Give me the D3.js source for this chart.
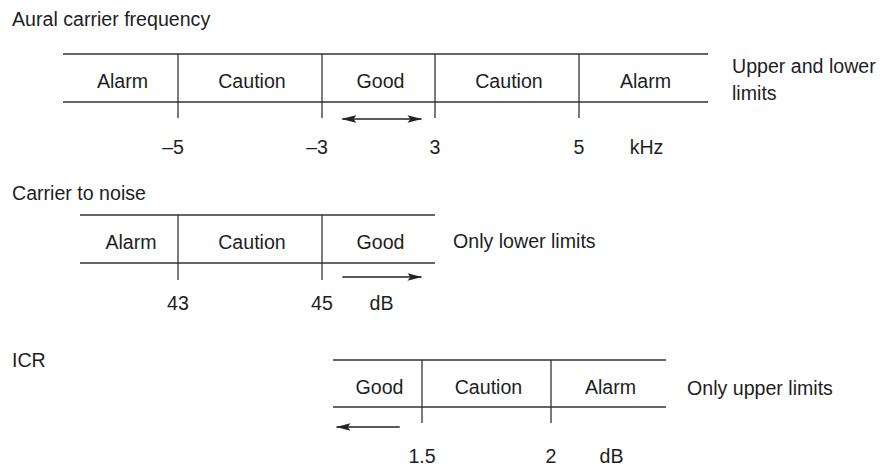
<!DOCTYPE html>
<html>
<head>
<meta charset="utf-8">
<script src="https://cdn.jsdelivr.net/npm/d3@7"></script>
<style>
  body { margin: 0; background: #fff; }
  text { font-family: "Liberation Sans", Arial, Helvetica, sans-serif; fill: #1e1e1e; }
</style>
</head>
<body>
<div class="canva"></div>
<script>
// ---- data ----
const panelTitles = ["Aural carrier frequency", "Carrier to noise", "ICR"];

const auralSegments = ["Alarm", "Caution", "Good", "Caution", "Alarm"];
const auralLimits = ["–5", "–3", "3", "5"];
const auralUnit = "kHz";
const auralNote = ["Upper and lower", "limits"];

const cnSegments = ["Alarm", "Caution", "Good"];
const cnLimits = ["43", "45"];
const cnUnit = "dB";
const cnNote = ["Only lower limits"];

const icrSegments = ["Good", "Caution", "Alarm"];
const icrLimits = ["1.5", "2"];
const icrUnit = "dB";
const icrNote = ["Only upper limits"];

// ---- layout ----
const width = 883, height = 468;
const svg = d3.select(".canva").append("svg")
    .attr("width", width)
    .attr("height", height);

const fontSize = 19.6;
const ink = "#333";

// arrow heads
const defs = svg.append("defs");
defs.append("marker")
    .attr("id", "head")
    .attr("viewBox", "0 -4 15 8")
    .attr("refX", 14)
    .attr("refY", 0)
    .attr("markerUnits", "userSpaceOnUse")
    .attr("markerWidth", 15)
    .attr("markerHeight", 8)
    .attr("orient", "auto-start-reverse")
  .append("path")
    .attr("d", "M0,-3.8L15,0L0,3.8L3,0Z")
    .attr("fill", "#222");

// each panel: its data + where it sits
const panels = [
  {title: panelTitles[0], titleY: 26, segments: auralSegments, limits: auralLimits, unit: auralUnit, note: auralNote,
   edges: [63, 178, 322, 435, 579, 708], top: 54, bandH: 48, tickDrop: 16, labelDrop: 52,
   noteX: 732, noteY: 73, arrow: {seg: 2, from: 0.18, to: 0.88, dir: "both", dy: 17}},
  {title: panelTitles[1], titleY: 200, segments: cnSegments, limits: cnLimits, unit: cnUnit, note: cnNote,
   edges: [80, 178, 322, 435], top: 215, bandH: 48, tickDrop: 17, labelDrop: 47,
   noteX: 453, noteY: 248, arrow: {seg: 2, from: 0.18, to: 0.88, dir: "right", dy: 14}},
  {title: panelTitles[2], titleY: 367, segments: icrSegments, limits: icrLimits, unit: icrUnit, note: icrNote,
   edges: [333, 422, 551, 666], top: 360, bandH: 47, tickDrop: 16, labelDrop: 56,
   noteX: 687, noteY: 395, arrow: {seg: 0, from: 0.04, to: 0.75, dir: "left", dy: 20}}
];

panels.forEach(p => {
  const g = svg.append("g");
  const n = p.segments.length;
  // piecewise scale: boundary index -> px
  const x = d3.scaleLinear().domain(d3.range(n + 1)).range(p.edges);
  const bottom = p.top + p.bandH;

  g.append("text")
      .attr("x", 12)
      .attr("y", p.titleY)
      .attr("font-size", fontSize)
      .text(p.title);

  // top and bottom rules
  g.selectAll("line.rule")
    .data([p.top, bottom])
    .enter().append("line")
      .attr("class", "rule")
      .attr("x1", x(0)).attr("x2", x(n))
      .attr("y1", d => d).attr("y2", d => d)
      .attr("stroke", ink)
      .attr("stroke-width", 1.5);

  // dividers, which hang below as ticks
  g.selectAll("line.div")
    .data(p.limits)
    .enter().append("line")
      .attr("class", "div")
      .attr("x1", (d, i) => x(i + 1)).attr("x2", (d, i) => x(i + 1))
      .attr("y1", p.top).attr("y2", bottom + p.tickDrop)
      .attr("stroke", ink)
      .attr("stroke-width", 1.3);

  // segment names
  g.selectAll("text.seg")
    .data(p.segments)
    .enter().append("text")
      .attr("class", "seg")
      .attr("x", (d, i) => x(i + 0.5) + 2)
      .attr("y", p.top + 34)
      .attr("text-anchor", "middle")
      .attr("font-size", fontSize)
      .text(d => d);

  // limit values
  g.selectAll("text.lim")
    .data(p.limits)
    .enter().append("text")
      .attr("class", "lim")
      .attr("x", (d, i) => x(i + 1))
      .attr("dx", d => d.startsWith("–") ? "-0.25em" : 0)
      .attr("y", bottom + p.labelDrop)
      .attr("text-anchor", "middle")
      .attr("font-size", fontSize)
      .text(d => d);

  g.append("text")
      .attr("x", x(n - 0.5) + 3)
      .attr("y", bottom + p.labelDrop)
      .attr("text-anchor", "middle")
      .attr("font-size", fontSize)
      .text(p.unit);

  // note on the right
  g.append("text")
      .attr("x", p.noteX)
      .attr("y", p.noteY)
      .attr("font-size", fontSize)
    .selectAll("tspan")
    .data(p.note)
    .enter().append("tspan")
      .attr("x", p.noteX)
      .attr("dy", (d, i) => i ? 27 : 0)
      .text(d => d);

  // direction arrow inside the Good segment
  const a = p.arrow;
  const ay = bottom + a.dy;
  const line = g.append("line")
      .attr("y1", ay).attr("y2", ay)
      .attr("stroke", "#222")
      .attr("stroke-width", 1.5);
  if (a.dir === "left") {
    line.attr("x1", x(a.seg + a.to)).attr("x2", x(a.seg + a.from))
        .attr("marker-end", "url(#head)");
  } else {
    line.attr("x1", x(a.seg + a.from)).attr("x2", x(a.seg + a.to))
        .attr("marker-end", "url(#head)");
    if (a.dir === "both") line.attr("marker-start", "url(#head)");
  }
});
</script>
</body>
</html>
